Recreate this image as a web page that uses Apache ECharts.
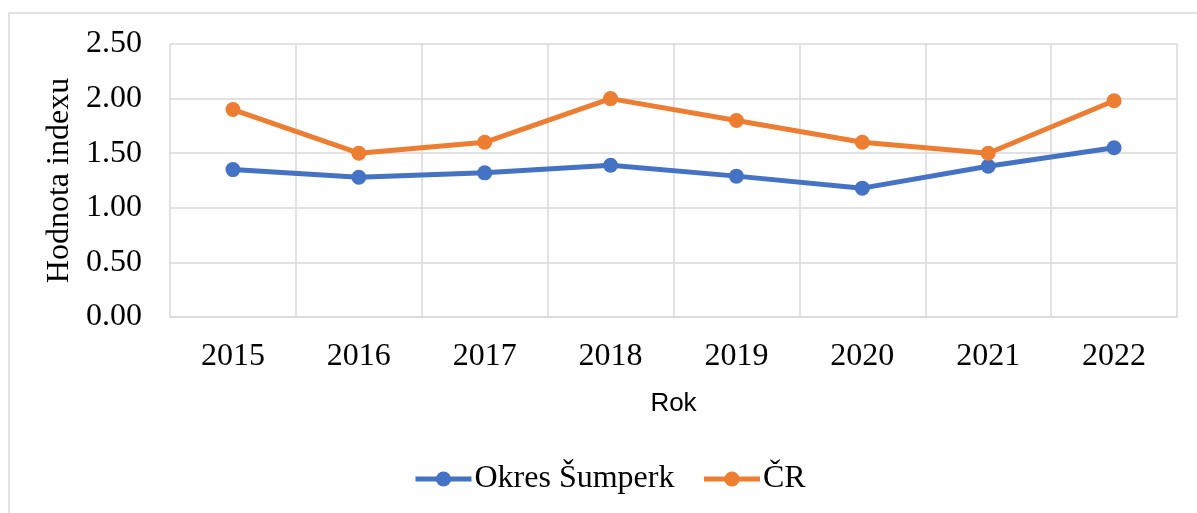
<!DOCTYPE html>
<html>
<head>
<meta charset="utf-8">
<script src="https://cdn.jsdelivr.net/npm/echarts@6/dist/echarts.min.js"></script>
<style>
html,body{margin:0;padding:0;background:#fff;}
#chart{width:1197px;height:513px;}
</style>
</head>
<body>
<div id="chart"></div>
<script>
// data
var roky = ['2015','2016','2017','2018','2019','2020','2021','2022'];
var sumperk = [1.35, 1.28, 1.32, 1.39, 1.29, 1.18, 1.38, 1.55];
var cr = [1.90, 1.50, 1.60, 2.00, 1.80, 1.60, 1.50, 1.98];

var serif = '"Liberation Serif", "DejaVu Serif", serif';
var gridColor = '#d9d9d9';

var myChart = echarts.init(document.getElementById('chart'));
var option = {
	backgroundColor:'#fff',
	animation:false,
	graphic:[{
		type:'rect',
		shape:{x:9, y:13, width:1220, height:540},
		style:{fill:'none', stroke:'#d9d9d9', lineWidth:1.5},
		silent:true
	}],
	grid:{left:170, top:44, right:20, bottom:196},
	legend:{
		bottom:13,
		left:408,
		itemWidth:56,
		itemHeight:19,
		itemGap:27,
		lineStyle:{width:5},
		textStyle:{fontFamily:serif, fontSize:32, color:'#000', padding:[0,0,0,-2]},
		data:['Okres Šumperk','ČR']
	},
	xAxis:{
		type:'category',
		data:roky,
		boundaryGap:true,
		name:'Rok',
		nameLocation:'middle',
		nameGap:74,
		nameTextStyle:{fontFamily:'"Liberation Sans", "Open Sans", sans-serif', fontSize:26, color:'#000'},
		axisLine:{show:true, lineStyle:{color:gridColor, width:1.5}},
		axisTick:{show:false},
		axisLabel:{fontFamily:serif, fontSize:32, color:'#000', margin:24, interval:0},
		splitLine:{show:true, interval:0, lineStyle:{color:gridColor, width:1.5}}
	},
	yAxis:{
		type:'value',
		min:0,
		max:2.5,
		interval:0.5,
		name:'Hodnota indexu',
		nameLocation:'middle',
		nameGap:92,
		nameTextStyle:{fontFamily:serif, fontSize:32, color:'#000'},
		axisLine:{show:false},
		axisTick:{show:false},
		axisLabel:{fontFamily:serif, fontSize:32, color:'#000', margin:28, formatter:function(v){return v.toFixed(2);}},
		splitLine:{lineStyle:{color:gridColor, width:1.5}}
	},
	series:[{
		name:'Okres Šumperk',
		type:'line',
		data:sumperk,
		color:'#4472c4',
		symbol:'circle',
		symbolSize:15,
		lineStyle:{width:5, color:'#4472c4'},
		itemStyle:{color:'#4472c4'}
	},{
		name:'ČR',
		type:'line',
		data:cr,
		color:'#ed7d31',
		symbol:'circle',
		symbolSize:15,
		lineStyle:{width:5, color:'#ed7d31'},
		itemStyle:{color:'#ed7d31'}
	}]
};
myChart.setOption(option);
</script>
</body>
</html>
